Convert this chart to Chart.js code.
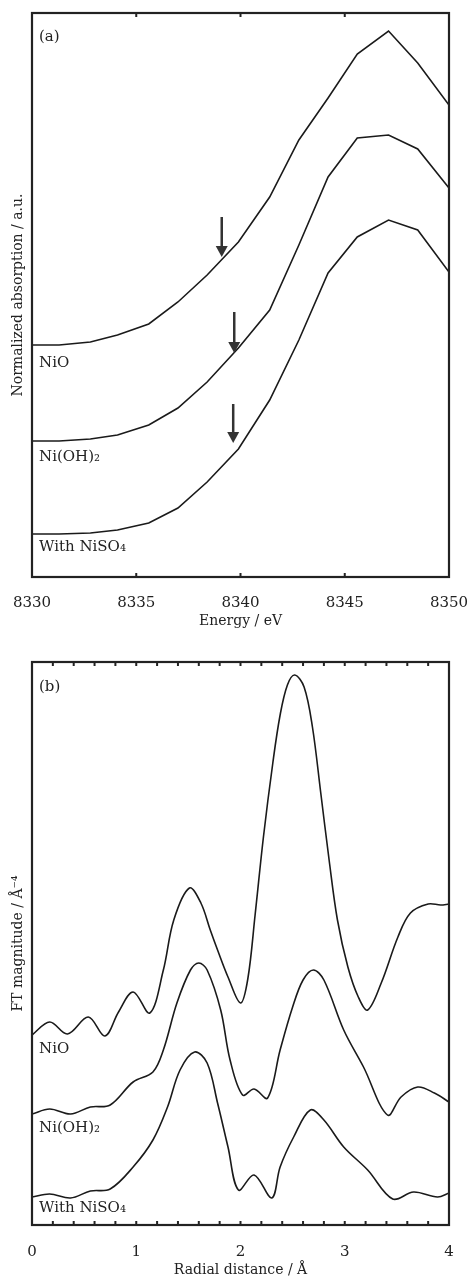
<!DOCTYPE html>
<html>
<head>
<meta charset="utf-8">
<script src="https://cdn.jsdelivr.net/npm/chart.js@4.4.0/dist/chart.umd.min.js"></script>
<style>
    body { margin: 0; background: #fff; }
    #wrapA { position: absolute; left: 0; top: 0; }
    #wrapB { position: absolute; left: 0; top: 640px; }
</style>
</head>
<body>
<div id="wrapA"><canvas id="chartA" width="472" height="635"></canvas></div>
<div id="wrapB"><canvas id="chartB" width="472" height="643"></canvas></div>
<script>
// (a) XANES, stacked with offsets
const energy = [8330, 8331.3, 8332.8, 8334.1, 8335.6, 8337.0, 8338.4, 8339.9, 8341.4, 8342.8, 8344.2, 8345.6, 8347.1, 8348.5, 8350];
const xanesNiO = [2.32, 2.32, 2.35, 2.42, 2.53, 2.75, 3.02, 3.35, 3.80, 4.37, 4.79, 5.23, 5.46, 5.14, 4.72];
const xanesNiOH2 = [1.36, 1.36, 1.38, 1.42, 1.52, 1.69, 1.95, 2.29, 2.67, 3.32, 4.00, 4.39, 4.42, 4.28, 3.89];
const xanesNiSO4 = [0.43, 0.43, 0.44, 0.47, 0.54, 0.69, 0.95, 1.28, 1.77, 2.37, 3.04, 3.40, 3.57, 3.47, 3.05];
const energyTicks = [8335, 8340, 8345];

// edge arrows
const arrowEnergy = [8339.1, 8339.7, 8339.65];
const arrowTail = [3.60, 2.65, 1.73];
const arrowTip = [3.20, 2.24, 1.34];

// (b) FT of EXAFS
const rNiO = [0.00, 0.17, 0.34, 0.54, 0.70, 0.83, 0.97, 1.13, 1.26, 1.36, 1.51, 1.62, 1.71, 1.78, 1.88, 2.00, 2.07, 2.14, 2.22, 2.31, 2.38, 2.45, 2.52, 2.61, 2.69, 2.77, 2.85, 2.93, 3.03, 3.13, 3.22, 3.35, 3.51, 3.63, 3.80, 3.92, 4.00];
const ftNiO = [1.90, 2.03, 1.91, 2.08, 1.89, 2.13, 2.33, 2.12, 2.55, 3.05, 3.37, 3.22, 2.95, 2.75, 2.48, 2.22, 2.46, 3.10, 3.88, 4.62, 5.10, 5.40, 5.50, 5.38, 4.98, 4.32, 3.65, 3.05, 2.58, 2.28, 2.15, 2.42, 2.88, 3.12, 3.21, 3.20, 3.21];
const rNiOH2 = [0.00, 0.17, 0.37, 0.56, 0.75, 0.97, 1.16, 1.26, 1.39, 1.52, 1.60, 1.68, 1.81, 1.90, 2.02, 2.13, 2.26, 2.38, 2.50, 2.60, 2.70, 2.80, 2.99, 3.18, 3.41, 3.54, 3.70, 3.86, 4.00];
const ftNiOH2 = [1.11, 1.16, 1.11, 1.18, 1.20, 1.43, 1.53, 1.75, 2.22, 2.55, 2.62, 2.55, 2.15, 1.65, 1.30, 1.36, 1.27, 1.75, 2.18, 2.45, 2.55, 2.45, 1.95, 1.58, 1.10, 1.28, 1.38, 1.32, 1.23];
const rNiSO4 = [0.00, 0.17, 0.37, 0.56, 0.75, 0.97, 1.16, 1.30, 1.42, 1.56, 1.68, 1.78, 1.88, 1.98, 2.13, 2.30, 2.38, 2.51, 2.67, 2.80, 2.99, 3.22, 3.46, 3.66, 3.89, 4.00];
const ftNiSO4 = [0.28, 0.31, 0.27, 0.34, 0.36, 0.58, 0.85, 1.18, 1.55, 1.73, 1.62, 1.22, 0.78, 0.35, 0.50, 0.27, 0.58, 0.88, 1.15, 1.05, 0.78, 0.55, 0.26, 0.33, 0.28, 0.32];
const radiusTicks = [0.2, 0.4, 0.6, 0.8, 1, 1.2, 1.4, 1.6, 1.8, 2, 2.2, 2.4, 2.6, 2.8, 3, 3.2, 3.4, 3.6, 3.8];

const sampleNames = ['NiO', 'Ni(OH)₂', 'With NiSO₄'];

const ink = '#222';
const serif = '"DejaVu Serif", "Liberation Serif", serif';

const framePlugin = {
    id: 'frame',
    afterDatasetsDraw(chart, args, opts) {
        const { ctx, chartArea: a } = chart;
        const x = chart.scales.x;
        const y = chart.scales.y;
        ctx.save();
        ctx.strokeStyle = ink;
        ctx.lineWidth = 2;
        ctx.beginPath();
        opts.ticks.forEach(v => {
            const px = x.getPixelForValue(v);
            ctx.moveTo(px, a.top);
            ctx.lineTo(px, a.top + 4);
            ctx.moveTo(px, a.bottom);
            ctx.lineTo(px, a.bottom - 4);
        });
        ctx.stroke();
        ctx.lineWidth = 2.2;
        ctx.strokeRect(a.left, a.top, a.right - a.left, a.bottom - a.top);

        ctx.fillStyle = ink;
        ctx.font = '15px ' + serif;
        ctx.textBaseline = 'middle';
        ctx.textAlign = 'left';
        ctx.fillText(opts.panel, a.left + 7, y.getPixelForValue(opts.panelAt));
        opts.labelsAt.forEach((v, i) => {
            ctx.fillText(sampleNames[i], a.left + 7, y.getPixelForValue(v));
        });

        (opts.arrows || []).forEach(ar => {
            const px = x.getPixelForValue(ar.x);
            const top = y.getPixelForValue(ar.from);
            const tip = y.getPixelForValue(ar.to);
            ctx.strokeStyle = '#333';
            ctx.fillStyle = '#333';
            ctx.lineWidth = 2.5;
            ctx.beginPath();
            ctx.moveTo(px, top);
            ctx.lineTo(px, tip - 9);
            ctx.stroke();
            ctx.beginPath();
            ctx.moveTo(px - 6, tip - 11);
            ctx.lineTo(px + 6, tip - 11);
            ctx.lineTo(px, tip);
            ctx.closePath();
            ctx.fill();
        });
        ctx.restore();
    }
};

function lineSet(xs, ys, smooth) {
    return {
        data: xs.map((v, i) => ({ x: v, y: ys[i] })),
        borderColor: '#1a1a1a',
        borderWidth: 1.6,
        pointRadius: 0,
        fill: false,
        tension: smooth ? 0.35 : 0
    };
}

function makeChart(el, cfg) {
    return new Chart(el, {
        type: 'line',
        data: { datasets: cfg.datasets },
        options: {
            responsive: false,
            animation: false,
            layout: { padding: { top: cfg.padTop, right: 23, left: 0, bottom: 0 } },
            plugins: {
                legend: { display: false },
                tooltip: { enabled: false },
                frame: cfg.frame
            },
            scales: {
                x: {
                    type: 'linear',
                    min: cfg.xMin,
                    max: cfg.xMax,
                    grid: { display: false, drawTicks: false, tickLength: 0 },
                    border: { display: false },
                    ticks: {
                        stepSize: cfg.xStep,
                        autoSkip: false,
                        maxRotation: 0,
                        padding: cfg.tickPad,
                        color: ink,
                        font: { family: serif, size: 15 },
                        callback: (v) => String(v)
                    },
                    title: {
                        display: true,
                        text: cfg.xTitle,
                        color: ink,
                        font: { family: serif, size: 14 },
                        padding: { top: 0, bottom: cfg.titlePad }
                    },
                    afterFit: (scale) => {
                        scale.height = cfg.xHeight;
                        scale.paddingLeft = 0;
                        scale.paddingRight = 0;
                    }
                },
                y: {
                    type: 'linear',
                    min: 0,
                    max: cfg.yMax,
                    grid: { display: false, drawTicks: false, tickLength: 0 },
                    border: { display: false },
                    ticks: { display: false },
                    title: {
                        display: true,
                        text: cfg.yTitle,
                        color: ink,
                        font: { family: serif, size: 14 },
                        padding: { top: 10, bottom: 0 }
                    },
                    afterFit: (scale) => { scale.width = 32; }
                }
            }
        },
        plugins: [framePlugin]
    });
}

makeChart(document.getElementById('chartA'), {
    datasets: [
        lineSet(energy, xanesNiO, false),
        lineSet(energy, xanesNiOH2, false),
        lineSet(energy, xanesNiSO4, false)
    ],
    padTop: 13,
    xMin: 8330, xMax: 8350, xStep: 5,
    tickPad: 17, titlePad: 5, xHeight: 58,
    xTitle: 'Energy / eV',
    yTitle: 'Normalized absorption / a.u.',
    yMax: 5.64,
    frame: {
        ticks: energyTicks,
        panel: '(a)', panelAt: 5.40,
        labelsAt: [2.14, 1.20, 0.30],
        arrows: arrowEnergy.map((e, i) => ({ x: e, from: arrowTail[i], to: arrowTip[i] }))
    }
});

makeChart(document.getElementById('chartB'), {
    datasets: [
        lineSet(rNiO, ftNiO, true),
        lineSet(rNiOH2, ftNiOH2, true),
        lineSet(rNiSO4, ftNiSO4, true)
    ],
    padTop: 22,
    xMin: 0, xMax: 4, xStep: 1,
    tickPad: 18, titlePad: 4, xHeight: 58,
    xTitle: 'Radial distance / Å',
    yTitle: 'FT magnitude / Å⁻⁴',
    yMax: 5.63,
    frame: {
        ticks: radiusTicks,
        panel: '(b)', panelAt: 5.38,
        labelsAt: [1.76, 0.97, 0.17]
    }
});
</script>
</body>
</html>
